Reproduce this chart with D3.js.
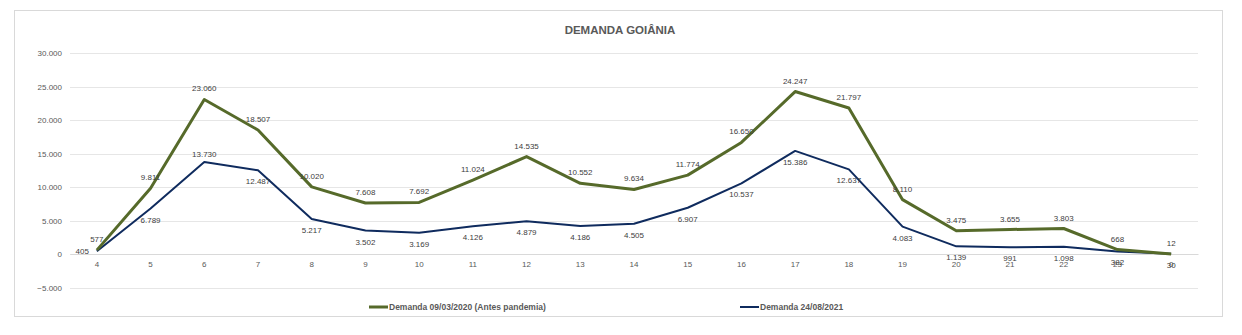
<!DOCTYPE html>
<html><head><meta charset="utf-8">
<script src="https://cdn.jsdelivr.net/npm/d3@7"></script>
<style>body{margin:0;background:#fff}svg{display:block;font-family:"Liberation Sans",Arial,sans-serif}</style>
</head><body><svg id="c" width="1242" height="335"></svg>
<script>
const categories = ["4","5","6","7","8","9","10","11","12","13","14","15","16","17","18","19","20","21","22","23","0"];
const demanda2020 = [577,9811,23060,18507,10020,7608,7692,11024,14535,10552,9634,11774,16650,24247,21797,8110,3475,3655,3803,668,12];
const demanda2021 = [405,6789,13730,12487,5217,3502,3169,4126,4879,4186,4505,6907,10537,15386,12637,4083,1139,991,1098,382,30];
const yTicks = [-5000,0,5000,10000,15000,20000,25000,30000];
const seriesNames = ["Demanda 09/03/2020 (Antes pandemia)","Demanda 24/08/2021"];
const title = "DEMANDA GOIÂNIA";

const svg = d3.select("#c");
const fmt = v => d3.format(",")(v).replace(/,/g,".");
svg.append("rect").attr("x",14.5).attr("y",10.5).attr("width",1208).attr("height",306)
  .attr("fill","#fff").attr("stroke","#d9d9d9");
svg.append("text").attr("x",620).attr("y",34).attr("text-anchor","middle")
  .attr("font-size",11.5).attr("font-weight","bold").attr("fill","#595959").text(title);

const x = d3.scaleBand().domain(categories).range([70,1198]);
const y = d3.scaleLinear().domain([-5000,30000]).range([287.5,53]);
const cx = c => x(c)+x.bandwidth()/2;

// gridlines
svg.append("g").selectAll("line").data(yTicks).join("line")
  .attr("x1",70).attr("x2",1198).attr("y1",d=>Math.round(y(d))+0.5).attr("y2",d=>Math.round(y(d))+0.5)
  .attr("stroke","#e6e6e6").attr("stroke-width",1);

const yAxis = svg.append("g").attr("transform","translate(70,0)")
  .call(d3.axisLeft(y).tickValues(yTicks).tickSize(0).tickPadding(8).tickFormat(fmt));
yAxis.select(".domain").remove();
yAxis.selectAll("text").attr("font-size",8).attr("fill","#595959").attr("font-family","Liberation Sans, Arial");

const xAxis = svg.append("g").attr("transform",`translate(0,${y(0)})`)
  .call(d3.axisBottom(x).tickSize(0).tickPadding(7));
xAxis.select(".domain").attr("stroke","#d9d9d9");
xAxis.selectAll("text").attr("font-size",8).attr("fill","#595959").attr("font-family","Liberation Sans, Arial");

const line = d3.line().x((d,i)=>cx(categories[i])).y(d=>y(d));
const colors = ["#566a2a","#0f2b5e"];
svg.append("path").datum(demanda2021).attr("d",line).attr("fill","none")
  .attr("stroke",colors[1]).attr("stroke-width",2).attr("stroke-linejoin","round");
svg.append("path").datum(demanda2020).attr("d",line).attr("fill","none")
  .attr("stroke",colors[0]).attr("stroke-width",3).attr("stroke-linejoin","round");

// labels
const lg = svg.append("g").attr("font-size",8).attr("fill","#404040");
lg.selectAll("text.g").data(demanda2020).join("text")
  .attr("x",(d,i)=>cx(categories[i])).attr("y",d=>y(d)-8).attr("text-anchor","middle").text(fmt);
lg.selectAll("text.b").data(demanda2021).join("text")
  .attr("x",(d,i)=> i===0 ? cx(categories[i])-8 : cx(categories[i]))
  .attr("y",(d,i)=> i===0 ? y(d)+3 : (i===2 ? y(d)-5 : y(d)+14))
  .attr("text-anchor",(d,i)=> i===0 ? "end" : "middle").text(fmt);

// legend
const leg = svg.append("g").attr("font-size",8.5).attr("font-weight","bold").attr("fill","#595959");
const lx = [369,740];
seriesNames.forEach((n,i)=>{
  leg.append("line").attr("x1",lx[i]).attr("x2",lx[i]+19).attr("y1",307).attr("y2",307)
    .attr("stroke",colors[i]).attr("stroke-width",i===0?3:2);
  leg.append("text").attr("x",lx[i]+20).attr("y",310).text(n);
});
</script></body></html>
